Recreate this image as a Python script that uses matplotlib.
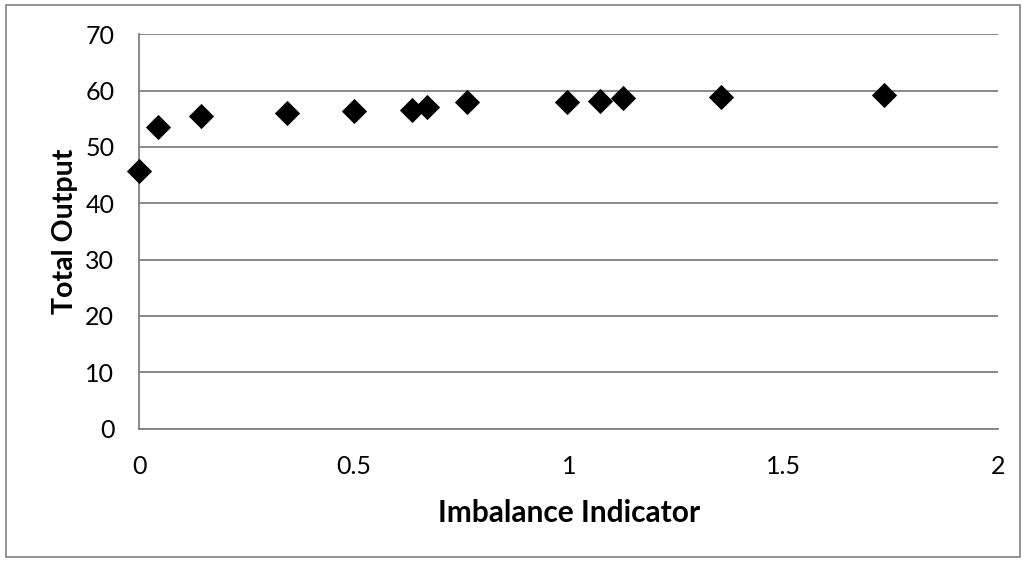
import matplotlib.pyplot as plt
from matplotlib.patches import Rectangle

# values
imbalance = [0.0, 0.043, 0.143, 0.343, 0.501, 0.636, 0.670, 0.764,
             0.996, 1.072, 1.125, 1.355, 1.733]
total_output = [45.8, 53.6, 55.4, 56.1, 56.3, 56.6, 57.1, 58.0,
                58.0, 58.2, 58.6, 58.8, 59.3]
x_ticks = [0, 0.5, 1, 1.5, 2]
x_tick_labels = ['0', '0.5', '1', '1.5', '2']
y_ticks = [0, 10, 20, 30, 40, 50, 60, 70]

plt.rcParams['font.family'] = ['Lato', 'DejaVu Sans']
grid_col = '#808080'

fig = plt.figure(figsize=(10.24, 5.61), dpi=100)
ax = fig.add_axes([0.136, 0.236, 0.839, 0.703])

ax.scatter(imbalance, total_output, marker='D', s=165, color='black',
           zorder=3, clip_on=False, linewidths=0)

ax.set_xlim(0, 2)
ax.set_ylim(0, 70)
ax.set_xticks(x_ticks)
ax.set_xticklabels(x_tick_labels)
ax.set_yticks(y_ticks)
ax.yaxis.grid(True, color=grid_col, linewidth=1.3)
ax.set_axisbelow(True)
for side in ['top', 'right']:
    ax.spines[side].set_visible(False)
for side in ['left', 'bottom']:
    ax.spines[side].set_color(grid_col)
    ax.spines[side].set_linewidth(1.3)
ax.tick_params(length=0, labelsize=18, colors='black')
ax.tick_params(axis='x', pad=19)
ax.tick_params(axis='y', pad=18)

ax.set_xlabel('Imbalance Indicator', fontsize=21.5, fontweight='bold', labelpad=15)
ax.set_ylabel('Total Output', fontsize=20.5, fontweight='bold', labelpad=5)

# chart area border like the spreadsheet export
fig.patches.append(Rectangle((6 / 1024, 4 / 561), 1014 / 1024, 552 / 561,
                             transform=fig.transFigure, fill=False,
                             edgecolor=grid_col, linewidth=1.2))

fig.savefig('out.png', dpi=100)
